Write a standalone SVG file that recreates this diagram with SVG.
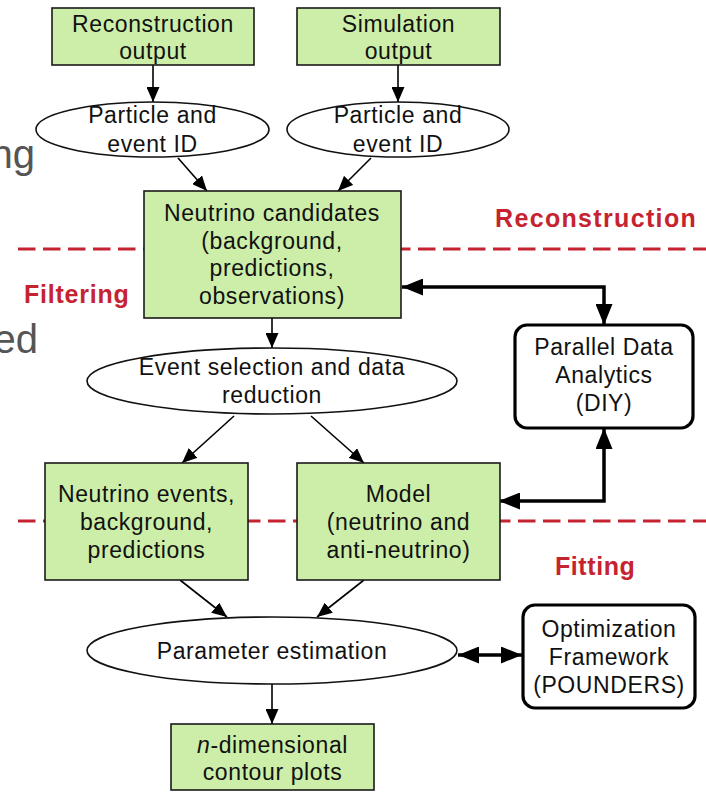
<svg xmlns="http://www.w3.org/2000/svg" width="706" height="792" viewBox="0 0 706 792">
<style>
.box{fill:#cdeea8;stroke:#1a1a1a;stroke-width:1.6}
.ell{fill:#fff;stroke:#111;stroke-width:1.6}
.rbox{fill:#fff;stroke:#000;stroke-width:3.2}
.t{font-family:"Liberation Sans",Arial,sans-serif;font-size:23px;letter-spacing:0.6px;fill:#111;text-anchor:middle}
.red{font-family:"Liberation Sans",Arial,sans-serif;font-size:25px;font-weight:bold;letter-spacing:1.2px;fill:#c62330}
.gray{font-family:"Liberation Sans",Arial,sans-serif;font-size:40px;fill:#555;text-anchor:end}
.dash{stroke:#c62330;stroke-width:3;stroke-dasharray:17.5 7.5;fill:none}
.thin{stroke:#000;stroke-width:1.6;fill:none}
.thick{stroke:#000;stroke-width:3.5;fill:none}
</style>
<defs>
<marker id="a" markerUnits="userSpaceOnUse" markerWidth="16" markerHeight="13" refX="15" refY="6.5" orient="auto"><path d="M0,0 L15,6.5 L0,13 z" fill="#000"/></marker>
<marker id="b" markerUnits="userSpaceOnUse" markerWidth="22" markerHeight="17" refX="21" refY="8.5" orient="auto"><path d="M0,0 L21,8.5 L0,17 z" fill="#000"/></marker>
<marker id="bs" markerUnits="userSpaceOnUse" markerWidth="22" markerHeight="17" refX="21" refY="8.5" orient="auto-start-reverse"><path d="M0,0 L21,8.5 L0,17 z" fill="#000"/></marker>
</defs>

<g id="background-text">
<text class="gray" x="35" y="168">ng</text>
<text class="gray" x="38" y="353">ed</text>
</g>

<g id="stage-lines">
<line class="dash" x1="18" y1="249" x2="706" y2="249"/>
<line class="dash" x1="18" y1="521" x2="706" y2="521"/>
</g>

<g id="stage-labels">
<text class="red" x="495" y="227" textLength="202" lengthAdjust="spacing">Reconstruction</text>
<text class="red" x="24" y="303" textLength="106" lengthAdjust="spacing">Filtering</text>
<text class="red" x="555" y="575" textLength="81" lengthAdjust="spacing">Fitting</text>
</g>

<g id="connectors">
<line class="thin" x1="153" y1="65" x2="153" y2="102" marker-end="url(#a)"/>
<line class="thin" x1="398" y1="65" x2="398" y2="102" marker-end="url(#a)"/>
<line class="thin" x1="178" y1="158" x2="207" y2="191" marker-end="url(#a)"/>
<line class="thin" x1="371" y1="158" x2="338" y2="191" marker-end="url(#a)"/>
<line class="thin" x1="272" y1="318" x2="272" y2="348" marker-end="url(#a)"/>
<line class="thin" x1="234" y1="416" x2="182" y2="463" marker-end="url(#a)"/>
<line class="thin" x1="311" y1="416" x2="364" y2="463" marker-end="url(#a)"/>
<line class="thin" x1="180" y1="580" x2="227" y2="617" marker-end="url(#a)"/>
<line class="thin" x1="364" y1="580" x2="317" y2="617" marker-end="url(#a)"/>
<line class="thin" x1="272" y1="684" x2="272" y2="724" marker-end="url(#a)"/>
<polyline class="thick" points="402,287 604,287 604,325" marker-start="url(#bs)" marker-end="url(#b)"/>
<polyline class="thick" points="499,501 604,501 604,428" marker-start="url(#bs)" marker-end="url(#b)"/>
<line class="thick" x1="458" y1="655" x2="522" y2="655" marker-start="url(#bs)" marker-end="url(#b)"/>
</g>

<g id="reconstruction-output">
<rect class="box" x="52" y="8" width="202" height="57"/>
<text class="t" x="153" y="31.5">Reconstruction</text>
<text class="t" x="153" y="59">output</text>
</g>

<g id="simulation-output">
<rect class="box" x="297" y="8" width="203" height="57"/>
<text class="t" x="398.5" y="31.5">Simulation</text>
<text class="t" x="398.5" y="59">output</text>
</g>

<g id="particle-id-1">
<ellipse class="ell" cx="152.5" cy="129.5" rx="116.5" ry="27.5"/>
<text class="t" x="152.5" y="123">Particle and</text>
<text class="t" x="152.5" y="152">event ID</text>
</g>

<g id="particle-id-2">
<ellipse class="ell" cx="398" cy="129.5" rx="111" ry="27.5"/>
<text class="t" x="398" y="123">Particle and</text>
<text class="t" x="398" y="152">event ID</text>
</g>

<g id="neutrino-candidates">
<rect class="box" x="144" y="191" width="257" height="127"/>
<text class="t" x="272" y="221">Neutrino candidates</text>
<text class="t" x="272" y="248.5">(background,</text>
<text class="t" x="272" y="276">predictions,</text>
<text class="t" x="272" y="303.5">observations)</text>
</g>

<g id="event-selection">
<ellipse class="ell" cx="272" cy="381" rx="185" ry="33"/>
<text class="t" x="272" y="375">Event selection and data</text>
<text class="t" x="272" y="403">reduction</text>
</g>

<g id="parallel-data-analytics">
<rect class="rbox" x="515" y="325" width="178" height="103" rx="12"/>
<text class="t" x="604" y="355">Parallel Data</text>
<text class="t" x="604" y="383">Analytics</text>
<text class="t" x="604" y="411">(DIY)</text>
</g>

<g id="neutrino-events">
<rect class="box" x="45" y="463" width="203" height="117"/>
<text class="t" x="146.5" y="502">Neutrino events,</text>
<text class="t" x="146.5" y="530">background,</text>
<text class="t" x="146.5" y="558">predictions</text>
</g>

<g id="model">
<rect class="box" x="297" y="463" width="203" height="117"/>
<text class="t" x="398.5" y="502">Model</text>
<text class="t" x="398.5" y="530">(neutrino and</text>
<text class="t" x="398.5" y="558">anti-neutrino)</text>
</g>

<g id="parameter-estimation">
<ellipse class="ell" cx="272" cy="650.5" rx="185" ry="33.5"/>
<text class="t" x="272" y="659">Parameter estimation</text>
</g>

<g id="optimization-framework">
<rect class="rbox" x="523" y="605" width="172" height="103" rx="12"/>
<text class="t" x="609" y="637">Optimization</text>
<text class="t" x="609" y="665">Framework</text>
<text class="t" x="609" y="693">(POUNDERS)</text>
</g>

<g id="contour-plots">
<rect class="box" x="171" y="724" width="203" height="66"/>
<text class="t" x="272.5" y="753"><tspan font-style="italic">n</tspan>-dimensional</text>
<text class="t" x="272.5" y="780">contour plots</text>
</g>
</svg>
